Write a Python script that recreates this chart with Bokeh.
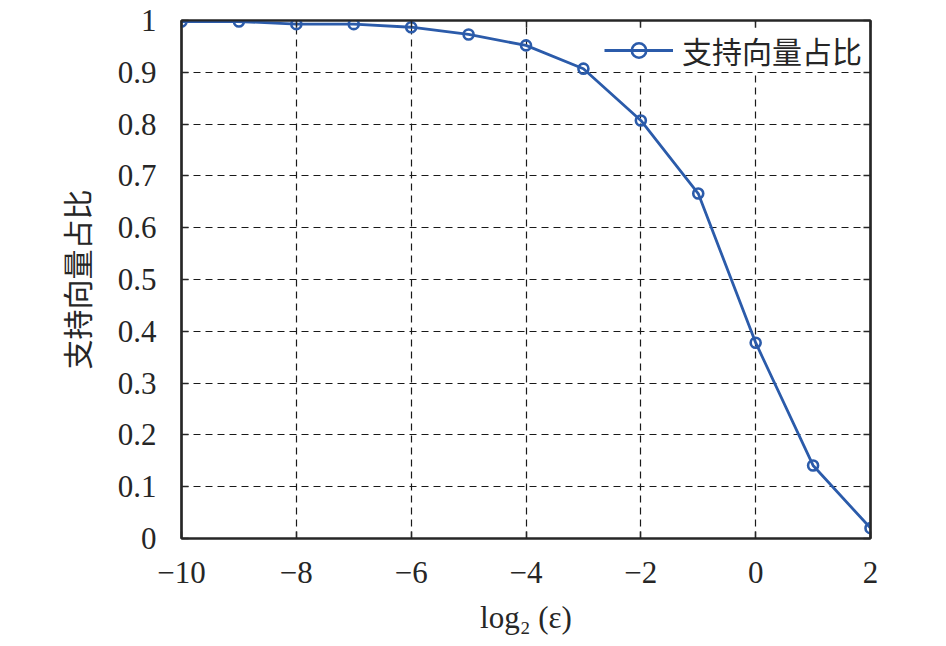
from bokeh.plotting import figure
from bokeh.models import LinearAxis, FixedTicker, Range1d, Legend, LegendItem, CustomJSTickFormatter, Grid
from bokeh.embed import file_html
from bokeh.resources import INLINE

# ---- data ----
x_vals = [-10, -9, -8, -7, -6, -5, -4, -3, -2, -1, 0, 1, 2]
ratio = [0.998, 0.998, 0.993, 0.993, 0.987, 0.973, 0.952, 0.907, 0.807, 0.666, 0.378, 0.141, 0.020]
x_ticks = [-10, -8, -6, -4, -2, 0, 2]
x_tick_labels = ["−10", "−8", "−6", "−4", "−2", "0", "2"]
y_ticks = [0, 0.1, 0.2, 0.3, 0.4, 0.5, 0.6, 0.7, 0.8, 0.9, 1]
y_tick_labels = ["0", "0.1", "0.2", "0.3", "0.4", "0.5", "0.6", "0.7", "0.8", "0.9", "1"]
series_name = "支持向量占比"
x_label = "log₂ (ε)"
y_label = "支持向量占比"

SERIF = "Liberation Serif"
CJK = "Noto Sans CJK SC"
BLUE = "#2B5BAA"
DARK = "#262626"

p = figure(width=930, height=638, output_backend="svg", toolbar_location=None,
           x_range=Range1d(-10, 2), y_range=Range1d(0, 1),
           min_border_left=181, min_border_right=60, min_border_top=20, min_border_bottom=100)
p.xaxis.visible = False
p.yaxis.visible = False
p.background_fill_color = "white"
p.border_fill_color = "white"
p.outline_line_color = DARK
p.outline_line_width = 2.2

def style_axis(ax, ticks, labels, show_labels):
    ax.ticker = FixedTicker(ticks=ticks)
    ax.axis_line_color = DARK
    ax.axis_line_width = 2.2
    ax.major_tick_in = 7
    ax.major_tick_out = 0
    ax.major_tick_line_color = DARK
    ax.major_tick_line_width = 1.5
    ax.minor_tick_line_color = None
    if show_labels:
        ax.major_label_overrides = {t: l for t, l in zip(ticks, labels)}
        ax.major_label_text_font = SERIF
        ax.major_label_text_font_size = "31px"
        ax.major_label_text_color = DARK
    else:
        ax.formatter = CustomJSTickFormatter(code="return ''")
        ax.major_label_text_font_size = "0px"
        ax.major_label_standoff = 0

xb = LinearAxis()
style_axis(xb, x_ticks, x_tick_labels, True)
xb.major_label_standoff = 23
xb.axis_label = x_label
xb.axis_label_text_font = SERIF
xb.axis_label_text_font_size = "31px"
xb.axis_label_text_font_style = "normal"
xb.axis_label_text_color = DARK
xb.axis_label_standoff = 14
p.add_layout(xb, "below")

yl = LinearAxis()
style_axis(yl, y_ticks, y_tick_labels, True)
yl.major_label_standoff = 25
yl.axis_label = y_label
yl.axis_label_text_font = CJK
yl.axis_label_text_font_size = "30px"
yl.axis_label_text_font_style = "normal"
yl.axis_label_text_color = DARK
yl.axis_label_standoff = 17
p.add_layout(yl, "left")

xt = LinearAxis()
style_axis(xt, x_ticks, x_tick_labels, False)
p.add_layout(xt, "above")
yr = LinearAxis()
style_axis(yr, y_ticks, y_tick_labels, False)
p.add_layout(yr, "right")

p.xgrid.visible = False
p.ygrid.visible = False
gx = Grid(dimension=0, ticker=FixedTicker(ticks=x_ticks), grid_line_color="#1a1a1a",
          grid_line_dash="7 5", grid_line_width=1.2)
gy = Grid(dimension=1, ticker=FixedTicker(ticks=y_ticks), grid_line_color="#1a1a1a",
          grid_line_dash="7 5", grid_line_width=1.2)
p.add_layout(gx)
p.add_layout(gy)

ln = p.line(x_vals, ratio, line_color=BLUE, line_width=2.8)
mk = p.scatter(x_vals, ratio, marker="circle", size=10, line_color=BLUE, line_width=2.6,
               fill_color="white", fill_alpha=0)

legend = Legend(items=[LegendItem(label=series_name, renderers=[ln, mk])],
                location="top_right", margin=8, padding=2,
                border_line_color=None, background_fill_color="white", background_fill_alpha=1,
                label_text_font=CJK, label_text_font_size="30px", label_text_color=DARK,
                glyph_width=69, glyph_height=36, label_height=36, label_standoff=9)
p.add_layout(legend)

open("out.html", "w").write(file_html(p, INLINE))
